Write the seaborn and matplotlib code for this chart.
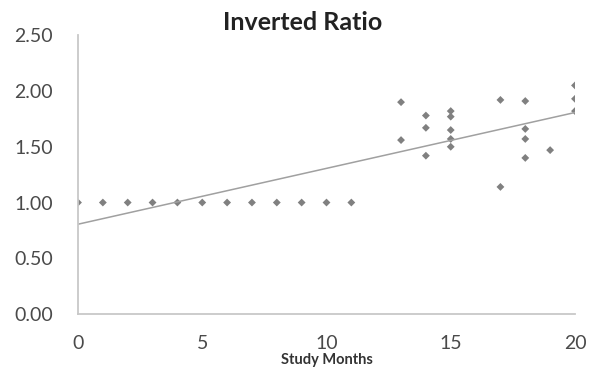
import numpy as np
import pandas as pd
import seaborn as sns
import matplotlib.pyplot as plt
from matplotlib.ticker import FormatStrFormatter

# study month of each observation and its inverted ratio
months = [0, 1, 2, 3, 4, 5, 6, 7, 8, 9, 10, 11,
          13, 13,
          14, 14, 14,
          15, 15, 15, 15, 15,
          17, 17,
          18, 18, 18, 18,
          19,
          20, 20, 20]
ratios = [1.00, 1.00, 1.00, 1.00, 1.00, 1.00, 1.00, 1.00, 1.00, 1.00, 1.00, 1.00,
          1.90, 1.56,
          1.78, 1.67, 1.42,
          1.82, 1.77, 1.65, 1.57, 1.50,
          1.92, 1.14,
          1.91, 1.66, 1.57, 1.40,
          1.47,
          2.05, 1.93, 1.82]
x_ticks = [0, 5, 10, 15, 20]
y_ticks = [0.0, 0.5, 1.0, 1.5, 2.0, 2.5]

df = pd.DataFrame({'month': months, 'ratio': ratios})

sns.set_style('white')
plt.rcParams['font.family'] = ['Lato', 'DejaVu Sans']

fig = plt.figure(figsize=(6.01, 3.83), dpi=100)
ax = fig.add_axes([0.1298, 0.18, 0.8269, 0.728])

sns.scatterplot(data=df, x='month', y='ratio', marker='D', s=16,
                color='#808080', edgecolor='none', ax=ax)
sns.regplot(data=df, x='month', y='ratio', scatter=False, ci=None,
            line_kws={'color': '#a0a0a0', 'linewidth': 1.1}, ax=ax)

ax.set_xlim(0, 20)
ax.set_ylim(0, 2.5)
ax.set_xticks(x_ticks)
ax.set_yticks(y_ticks)
ax.yaxis.set_major_formatter(FormatStrFormatter('%.2f'))

for side in ['top', 'right']:
    ax.spines[side].set_visible(False)
for side in ['left', 'bottom']:
    ax.spines[side].set_color('#c8c8c8')
    ax.spines[side].set_linewidth(1.3)

ax.tick_params(axis='both', length=3, color='#c8c8c8', labelsize=14,
               labelcolor='#4a4a4a')
ax.tick_params(axis='y', pad=15)
ax.tick_params(axis='x', pad=12)

ax.set_xlabel('Study Months', fontsize=10.5, fontweight='bold', color='#333333', labelpad=1)
ax.set_ylabel('')
fig.text(0.503, 0.94, 'Inverted Ratio', ha='center', va='center',
         fontsize=18, fontweight='bold', color='#222222')

plt.savefig('out.png', dpi=100)
